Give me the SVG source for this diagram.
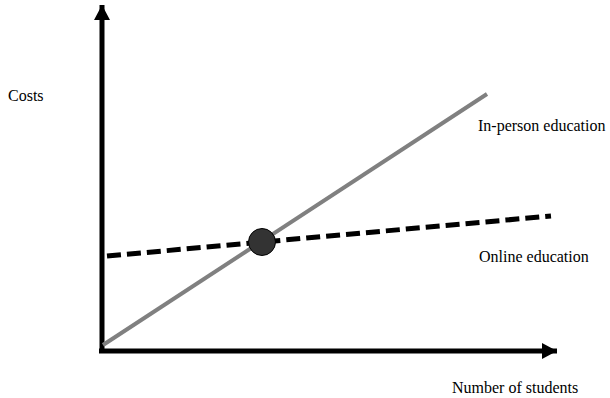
<svg xmlns="http://www.w3.org/2000/svg" width="610" height="398" viewBox="0 0 610 398">
<style>
.lbl{font-family:"Liberation Serif","Times New Roman",serif;font-size:16px;fill:#000}
.axis{stroke:#000;stroke-width:5;fill:none}
</style>
<defs>
<marker id="ah" markerUnits="userSpaceOnUse" markerWidth="16" markerHeight="16" refX="15" refY="8" orient="auto">
<path d="M0,0 L15,8 L0,16 Z" fill="#000"/>
</marker>
</defs>
<rect width="610" height="398" fill="#fff"/>
<g id="connectors">
<line class="axis" x1="102" y1="352" x2="102" y2="5" marker-end="url(#ah)"/>
<line class="axis" x1="99" y1="351" x2="557" y2="351" marker-end="url(#ah)"/>
<line x1="103" y1="345" x2="487" y2="94" stroke="#808080" stroke-width="4"/>
<line x1="107" y1="256" x2="551" y2="216" stroke="#000" stroke-width="5" stroke-dasharray="14,6"/>
</g>
<g id="intersection">
<circle cx="262" cy="242" r="13.5" fill="#333" stroke="#000" stroke-width="1"/>
</g>
<g id="labels">
<text class="lbl" x="8" y="101">Costs</text>
<text class="lbl" x="478" y="131">In-person education</text>
<text class="lbl" x="479" y="262">Online education</text>
<text class="lbl" x="452" y="393">Number of students</text>
</g>
</svg>
